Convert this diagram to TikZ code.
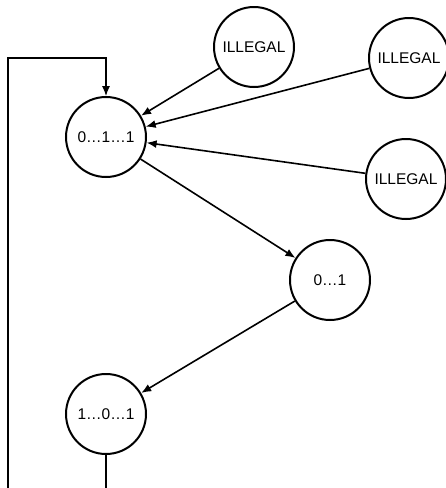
\documentclass[tikz,border=0pt]{standalone}
\usepackage{fontspec}
\setmainfont{Liberation Sans}
\usetikzlibrary{arrows.meta}
\begin{document}
\begin{tikzpicture}[x=1pt,y=-1pt,
  state/.style={circle,draw,line width=2pt,minimum size=80pt,inner sep=0pt,font=\fontsize{15.5}{18}\selectfont},
  conn/.style={line width=1.6pt,-{Latex[length=10pt,width=8pt]}},
  loopline/.style={line width=1.1pt,-{Latex[length=10pt,width=8pt]}}]
\useasboundingbox (0,0) rectangle (446,488);
\node[state] (A) at (106,137) {0…1…1};
\node[state] (I1) at (254,47) {ILLEGAL};
\node[state] (I2) at (409,58) {ILLEGAL};
\node[state] (I3) at (406,179) {ILLEGAL};
\node[state] (B) at (330,280) {0…1};
\node[state] (C) at (106,414) {1…0…1};
\coordinate (bl) at (8,493);
\coordinate (tl) at (8,58);
\draw[conn] (I1) -- (A);
\draw[conn] (I2) -- (A);
\draw[conn] (I3) -- (A);
\draw[conn] (A) -- (B);
\draw[conn] (B) -- (C);
\draw[loopline] (C.south) -- (C.south |- bl) -- (bl) -- (tl) -| (A.north);
\end{tikzpicture}
\end{document}
